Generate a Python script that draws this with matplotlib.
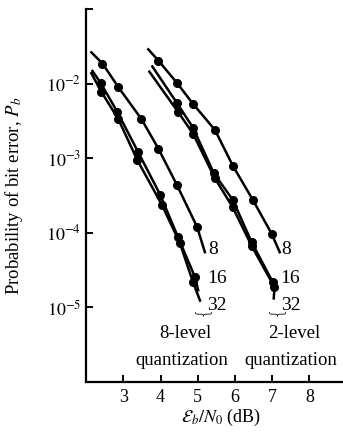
import numpy as np
import matplotlib
matplotlib.use("Agg")
import matplotlib.pyplot as plt

plt.rcParams['font.family'] = ['Liberation Serif', 'DejaVu Serif']
plt.rcParams['mathtext.fontset'] = 'stix'

# Eb/N0 (dB) and log10(Pb) at the plotted points
# 8-level quantization
q8_k8_x = [2.44, 2.87, 3.48, 3.94, 4.44, 4.98]
q8_k8_y = [-1.73, -2.05, -2.47, -2.87, -3.36, -3.92]
q8_k16_x = [2.39, 2.84, 3.40, 3.99, 4.47, 4.93]
q8_k16_y = [-1.99, -2.38, -2.92, -3.49, -4.06, -4.60]
q8_k32_x = [2.41, 2.87, 3.37, 4.04, 4.52, 4.87]
q8_k32_y = [-2.11, -2.48, -3.02, -3.63, -4.14, -4.66]
# 2-level quantization
q2_k8_x = [3.94, 4.44, 4.87, 5.46, 5.94, 6.48, 6.98]
q2_k8_y = [-1.69, -1.99, -2.27, -2.62, -3.10, -3.56, -4.01]
q2_k16_x = [4.44, 4.87, 5.43, 5.94, 6.45, 7.01]
q2_k16_y = [-2.26, -2.59, -3.20, -3.56, -4.13, -4.66]
q2_k32_x = [4.47, 4.87, 5.46, 5.94, 6.45, 7.06]
q2_k32_y = [-2.38, -2.67, -3.27, -3.66, -4.18, -4.73]

# where each drawn line starts and ends (beyond the points)
line_start = {'q8_8': (2.14, -1.58), 'q8_16': (2.17, -1.83), 'q8_32': (2.14, -1.86),
              'q2_8': (3.67, -1.54), 'q2_16': (3.78, -1.77), 'q2_32': (3.70, -1.84)}
line_end = {'q8_8': (5.19, -4.26), 'q8_16': (5.01, -4.77), 'q8_32': (5.06, -4.91),
            'q2_8': (7.20, -4.26), 'q2_16': (7.06, -4.77), 'q2_32': (7.04, -4.88)}

curves = {'q8_8': (q8_k8_x, q8_k8_y), 'q8_16': (q8_k16_x, q8_k16_y),
          'q8_32': (q8_k32_x, q8_k32_y), 'q2_8': (q2_k8_x, q2_k8_y),
          'q2_16': (q2_k16_x, q2_k16_y), 'q2_32': (q2_k32_x, q2_k32_y)}

fig = plt.figure(figsize=(3.43, 4.32), dpi=100)
ax = fig.add_axes([0.251, 0.116, 0.749, 0.863])

for key, (xs, ys) in curves.items():
    lx = [line_start[key][0]] + xs + [line_end[key][0]]
    ly = [line_start[key][1]] + ys + [line_end[key][1]]
    ax.plot(lx, 10.0 ** np.array(ly), color='black', lw=1.8, clip_on=False)
    ax.plot(xs, 10.0 ** np.array(ys), 'o', color='black', ms=5.5, clip_on=False)

ax.set_yscale('log')
ax.set_xlim(2.0, 8.9)
ax.set_ylim(1e-6, 1e-1)
ax.set_xticks([3, 4, 5, 6, 7, 8])
ax.set_yticks([1e-5, 1e-4, 1e-3, 1e-2, 1e-1])
ax.set_yticklabels([r'$10^{-5}$', r'$10^{-4}$', r'$10^{-3}$', r'$10^{-2}$', ''])
ax.minorticks_off()
ax.tick_params(direction='in', length=5, width=1.4, labelsize=13, colors='black')
ax.tick_params(axis='x', pad=5)
for s in ['top', 'right']:
    ax.spines[s].set_visible(False)
for s in ['left', 'bottom']:
    ax.spines[s].set_linewidth(1.6)

ax.set_ylabel(r'Probability of bit error, $P_b$', fontsize=13.5)
ax.yaxis.set_label_coords(-0.237, 0.5)
ax.set_xlabel(r'$\mathcal{E}_b/N_0$ (dB)', fontsize=13)
ax.xaxis.set_label_coords(0.525, -0.068)

# curve labels
for x0 in [5.28, 7.25]:
    ax.text(x0, 10 ** -4.22, '8', fontsize=14, va='center', ha='left')
    ax.text(x0 - 0.03, 10 ** -4.61, '16', fontsize=14, va='center', ha='left')
    ax.text(x0 - 0.02, 10 ** -4.97, '32', fontsize=14, va='center', ha='left')
    ax.text(x0 - 0.22, 10 ** -5.13, '}', fontsize=13, va='center', ha='center',
            rotation=-90, family='DejaVu Sans', fontweight='light')

ax.text(4.66, 10 ** -5.35, '8-level', fontsize=13.5, ha='center', va='center')
ax.text(3.32, 10 ** -5.71, 'quantization', fontsize=13.5, ha='left', va='center')
ax.text(7.60, 10 ** -5.35, '2-level', fontsize=13.5, ha='center', va='center')
ax.text(6.26, 10 ** -5.71, 'quantization', fontsize=13.5, ha='left', va='center')

fig.savefig('out.png', dpi=100)
